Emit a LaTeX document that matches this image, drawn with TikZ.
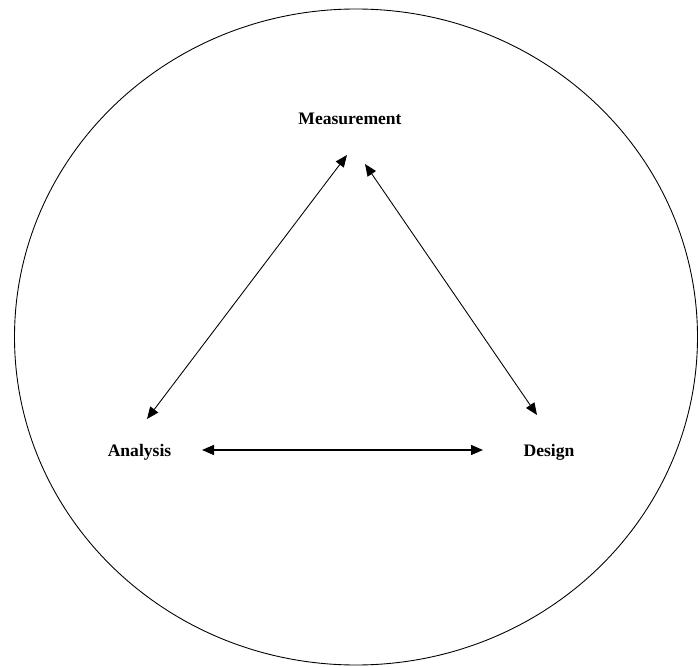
\documentclass[tikz,border=0pt]{standalone}
\usepackage{fontspec}
\setmainfont{Liberation Serif}
\usepackage{tikz}
\usetikzlibrary{arrows.meta}

\begin{document}
\begin{tikzpicture}[
  label/.style={anchor=base, inner sep=0pt, font=\fontsize{10}{12}\selectfont\bfseries, text=black},
  link/.style={{Triangle[length=0.24cm,width=0.2cm]}-{Triangle[length=0.24cm,width=0.2cm]}, line width=0.5pt, black},
]
  \useasboundingbox (0,0) rectangle (13.96,-13.34);
  \draw[line width=0.5pt] (7.12,-6.74) ellipse [x radius=6.83cm, y radius=6.56cm];
  \node[label] (meas) at (7.00,-2.50) {Measurement};
  \node[label] (ana) at (2.79,-9.12) {Analysis};
  \node[label] (des) at (10.98,-9.12) {Design};
  \draw[link] ([shift={(0.15,0.74)}]ana.base) -- ([shift={(-0.06,-0.60)}]meas.base);
  \draw[link] ([shift={(0.30,-0.78)}]meas.base) -- ([shift={(-0.24,0.82)}]des.base);
  \draw[link, line width=0.8pt] ([shift={(1.25,0.12)}]ana.base) -- ([shift={(-1.32,0.12)}]des.base);
\end{tikzpicture}
\end{document}
